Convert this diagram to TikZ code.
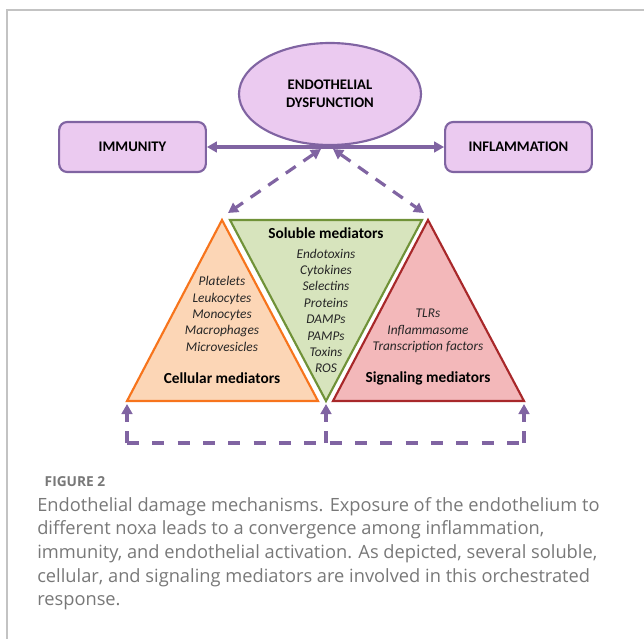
\documentclass[tikz,border=0pt]{standalone}
\usepackage{fontspec}
\setmainfont{Carlito}
\newfontfamily\captionfont{Open Sans}
\usetikzlibrary{arrows.meta,shapes.geometric}

\definecolor{linepurple}{RGB}{128,100,162}
\definecolor{fillpurple}{RGB}{235,202,240}
\definecolor{cellorange}{RGB}{247,116,28}
\definecolor{cellfill}{RGB}{252,214,182}
\definecolor{solgreen}{RGB}{112,146,56}
\definecolor{solfill}{RGB}{215,228,189}
\definecolor{sigred}{RGB}{168,40,42}
\definecolor{sigfill}{RGB}{243,184,186}
\definecolor{framegray}{RGB}{195,195,195}
\definecolor{captiongray}{RGB}{120,120,120}

\begin{document}
\begin{tikzpicture}[x=0.75pt, y=-0.75pt, >={Triangle[length=7.5pt,width=8pt]},
	purplebox/.style={draw=linepurple, fill=fillpurple, line width=1.6pt, rounded corners=6pt,
		minimum width=110pt, minimum height=37.5pt, font=\fontsize{11}{13}\selectfont\bfseries},
	link/.style={draw=linepurple, line width=2.4pt},
	dashlink/.style={link, dash pattern=on 9pt off 7pt},
	headtext/.style={font=\fontsize{11.5}{13}\selectfont\bfseries},
	listtext/.style={align=center, font=\fontsize{10}{12.3}\selectfont\itshape, text=black!85}]
		\useasboundingbox (0,0) rectangle (644,639);
		% frame of the figure
		\draw [framegray, line width=1pt] (7,639) -- (7,10) -- (644,10);
		% top row
		\node [ellipse, draw=linepurple, fill=fillpurple, line width=1.6pt, minimum width=136.5pt, minimum height=76.5pt,
			align=center, font=\fontsize{11}{13.5}\selectfont\bfseries] (endo) at (330,94) {ENDOTHELIAL\\DYSFUNCTION};
		\node [purplebox] (immunity) at (132.5,147) {IMMUNITY};
		\node [purplebox] (inflammation) at (518.5,147) {INFLAMMATION};
		\draw [link, <->] (immunity.east) -- (inflammation.west);
		% corners of the three triangles
		\coordinate (cellA) at (222,220);
		\coordinate (cellL) at (127,401);
		\coordinate (cellR) at (318,401);
		\coordinate (solL) at (230,220);
		\coordinate (solR) at (422,220);
		\coordinate (solB) at (326,401);
		\coordinate (sigA) at (428,220);
		\coordinate (sigL) at (333,401);
		\coordinate (sigR) at (524,401);
		\draw [cellorange, fill=cellfill, line width=1.6pt] (cellA) -- (cellL) -- (cellR) -- cycle;
		\draw [solgreen, fill=solfill, line width=1.6pt] (solL) -- (solR) -- (solB) -- cycle;
		\draw [sigred, fill=sigfill, line width=1.6pt] (sigA) -- (sigL) -- (sigR) -- cycle;
		% dashed links between the ellipse and the triangles
		\coordinate (topL) at (321,149);
		\coordinate (topR) at (333,149);
		\coordinate (tipL) at (228,213);
		\coordinate (tipR) at (424,213);
		\draw [dashlink, <->] (topL) -- (tipL);
		\draw [dashlink, <->] (topR) -- (tipR);
		% texts inside the triangles
		\node [headtext] (solhead) at (326,233) {Soluble mediators};
		\node [listtext] (sollist) at (326,311) {Endotoxins\\Cytokines\\Selectins\\Proteins\\DAMPs\\PAMPs\\Toxins\\ROS};
		\node [listtext] (celllist) at (222,314) {Platelets\\Leukocytes\\Monocytes\\Macrophages\\Microvesicles};
		\node [headtext] (cellhead) at (222,378) {Cellular mediators};
		\node [listtext] (siglist) at (428,331) {TLRs\\Inflammasome\\Transcription factors};
		\node [headtext] (sighead) at (428,378) {Signaling mediators};
		% dashed feedback along the bottom
		\coordinate (baseL) at (127,443);
		\coordinate (baseM) at (326,443);
		\coordinate (baseR) at (524,443);
		\coordinate (upL) at (127,404);
		\coordinate (upM) at (326,404);
		\coordinate (upR) at (524,404);
		\draw [link, dash pattern=on 9pt off 10pt] (baseL) -- (baseR);
		\draw [dashlink, ->] (baseL) -- (upL);
		\draw [dashlink, ->] (baseM) -- (upM);
		\draw [dashlink, ->] (baseR) -- (upR);
		% caption
		\node [anchor=base west, text=captiongray, font=\captionfont\fontsize{10.3}{12}\selectfont\bfseries] (figlabel) at (40,486) {FIGURE 2};
		\node [anchor=north west, inner sep=0pt, align=left, text=captiongray, font=\captionfont\fontsize{13.7}{17.7}\selectfont] (caption) at (37,497)
			{Endothelial damage mechanisms. Exposure of the endothelium to\\
			different noxa leads to a convergence among inflammation,\\
			immunity, and endothelial activation. As depicted, several soluble,\\
			cellular, and signaling mediators are involved in this orchestrated\\
			response.};
	\end{tikzpicture}
\end{document}
